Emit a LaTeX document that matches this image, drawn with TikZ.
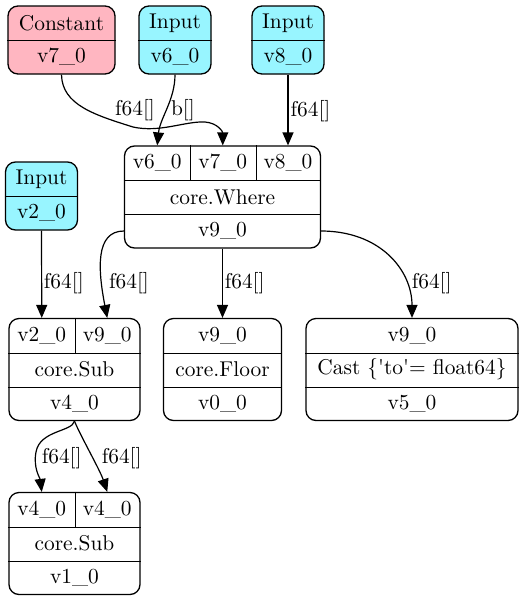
\documentclass[tikz,border=0pt]{standalone}
\usetikzlibrary{arrows.meta}
\definecolor{inputcyan}{RGB}{152,245,255}
\definecolor{constpink}{RGB}{255,182,193}
\tikzset{every picture/.style={line width=0.6pt}}
\tikzset{
  recbox/.style={draw, rounded corners=5pt, inner sep=0pt, line width=0.65pt},
  cell/.style={inner sep=0pt, minimum height=17pt},
  flow/.style={-{Triangle[length=6.5pt,width=5.5pt]}},
}

\begin{document}
\begin{tikzpicture}[x=0.5pt,y=0.5pt,yscale=-1,xscale=1,font=\fontsize{10.7}{12.8}\selectfont]
\useasboundingbox (0,0) rectangle (523,601);

%Shape: Record [Constant]
\node [recbox, fill=constpink, minimum width=53.5pt, minimum height=34pt] (constbox) at (61.5,40) {};
\node [cell, minimum width=53.5pt] (constop) at (61.5,23) {Constant};
\node [cell, minimum width=53.5pt] (v7out) at (61.5,57) {v7\_0};
\draw (constop.south west) -- (constop.south east);
%Shape: Record [Input v6]
\node [recbox, fill=inputcyan, minimum width=36pt, minimum height=34pt] (v6box) at (175,40) {};
\node [cell, minimum width=36pt] (v6op) at (175,23) {Input};
\node [cell, minimum width=36pt] (v6out) at (175,57) {v6\_0};
\draw (v6op.south west) -- (v6op.south east);
%Shape: Record [Input v8]
\node [recbox, fill=inputcyan, minimum width=36pt, minimum height=34pt] (v8box) at (288,40) {};
\node [cell, minimum width=36pt] (v8op) at (288,23) {Input};
\node [cell, minimum width=36pt] (v8out) at (288,57) {v8\_0};
\draw (v8op.south west) -- (v8op.south east);
%Shape: Record [Input v2]
\node [recbox, fill=inputcyan, minimum width=36pt, minimum height=34pt] (v2box) at (41.5,196) {};
\node [cell, minimum width=36pt] (v2op) at (41.5,179) {Input};
\node [cell, minimum width=36pt] (v2out) at (41.5,213) {v2\_0};
\draw (v2op.south west) -- (v2op.south east);

%Shape: Record [core.Where]
\node [recbox, minimum width=98pt, minimum height=51pt] (wherebox) at (222.5,197) {};
\node [cell, minimum width=32.75pt] (w6) at (157.25,163) {v6\_0};
\node [cell, minimum width=32.75pt] (w7) at (222.75,163) {v7\_0};
\node [cell, minimum width=32.5pt] (w8) at (288,163) {v8\_0};
\node [cell, minimum width=98pt] (whereop) at (222.5,197) {core.Where};
\node [cell, minimum width=98pt] (w9) at (222.5,231) {v9\_0};
\draw (w6.south west) -- (w8.south east);
\draw (whereop.south west) -- (whereop.south east);
\draw (w6.north east) -- (w6.south east);
\draw (w7.north east) -- (w7.south east);

%Shape: Record [core.Sub v4]
\node [recbox, minimum width=65.5pt, minimum height=51pt] (sub1box) at (74.5,369.5) {};
\node [cell, minimum width=32.75pt] (s1a) at (41.75,335.5) {v2\_0};
\node [cell, minimum width=32.75pt] (s1b) at (107.25,335.5) {v9\_0};
\node [cell, minimum width=65.5pt] (s1op) at (74.5,369.5) {core.Sub};
\node [cell, minimum width=65.5pt] (s1out) at (74.5,403.5) {v4\_0};
\draw (s1a.south west) -- (s1b.south east);
\draw (s1op.south west) -- (s1op.south east);
\draw (s1a.north east) -- (s1a.south east);
%Shape: Record [core.Floor]
\node [recbox, minimum width=59pt, minimum height=51pt] (floorbox) at (222.5,369.5) {};
\node [cell, minimum width=59pt] (fl1) at (222.5,335.5) {v9\_0};
\node [cell, minimum width=59pt] (floorop) at (222.5,369.5) {core.Floor};
\node [cell, minimum width=59pt] (floorout) at (222.5,403.5) {v0\_0};
\draw (fl1.south west) -- (fl1.south east);
\draw (floorop.south west) -- (floorop.south east);
%Shape: Record [Cast]
\node [recbox, minimum width=106pt, minimum height=51pt] (castbox) at (412,369.5) {};
\node [cell, minimum width=106pt] (ca1) at (412,335.5) {v9\_0};
\node [cell, minimum width=106pt] (castop) at (412,369.5) {Cast \{\textquotesingle to\textquotesingle= float64\}};
\node [cell, minimum width=106pt] (castout) at (412,403.5) {v5\_0};
\draw (ca1.south west) -- (ca1.south east);
\draw (castop.south west) -- (castop.south east);

%Shape: Record [core.Sub v1]
\node [recbox, minimum width=65.5pt, minimum height=51pt] (sub2box) at (74.5,543.5) {};
\node [cell, minimum width=32.75pt] (s2a) at (41.75,509.5) {v4\_0};
\node [cell, minimum width=32.75pt] (s2b) at (107.25,509.5) {v4\_0};
\node [cell, minimum width=65.5pt] (s2op) at (74.5,543.5) {core.Sub};
\node [cell, minimum width=65.5pt] (s2out) at (74.5,577.5) {v1\_0};
\draw (s2a.south west) -- (s2b.south east);
\draw (s2op.south west) -- (s2op.south east);
\draw (s2a.north east) -- (s2a.south east);

%Curves
\draw [flow] (v7out.south) .. controls (62,105) and (95,115) .. (133,127) .. controls (160,133) and (185,121) .. (205,122) .. controls (218,123) and (222.75,132) .. (w7.north);
\draw [flow] (v6out.south) .. controls (175,100) and (160,118) .. (w6.north);
\draw [flow] (v8out.south) -- (w8.north);
\draw [flow] (v2out.south) -- (s1a.north);
\draw [flow] (w9.west) .. controls (95,231) and (98,270) .. (s1b.north);
\draw [flow] (w9.south) -- (fl1.north);
\draw [flow] (w9.east) .. controls (380,231) and (412,270) .. (ca1.north);
\draw [flow] (s1out.south) .. controls (72,432) and (40,430) .. (36,452) .. controls (33,468) and (40,478) .. (s2a.north);
\draw [flow] (s1out.south) .. controls (80,435) and (100,470) .. (s2b.north);

% Text Node
\node (lbconst) at (135,110) {f64[]};
% Text Node
\node (lbv6) at (183,110) {b[]};
% Text Node
\node (lbv8) at (310.5,111) {f64[]};
% Text Node
\node (lbv2) at (63.8,283.5) {f64[]};
% Text Node
\node (lbsub) at (129,283.5) {f64[]};
% Text Node
\node (lbfloor) at (244.7,283.5) {f64[]};
% Text Node
\node (lbcast) at (431.7,283.5) {f64[]};
% Text Node
\node (lbleft) at (61.7,458) {f64[]};
% Text Node
\node (lbright) at (121.7,458) {f64[]};

\end{tikzpicture}
\end{document}
